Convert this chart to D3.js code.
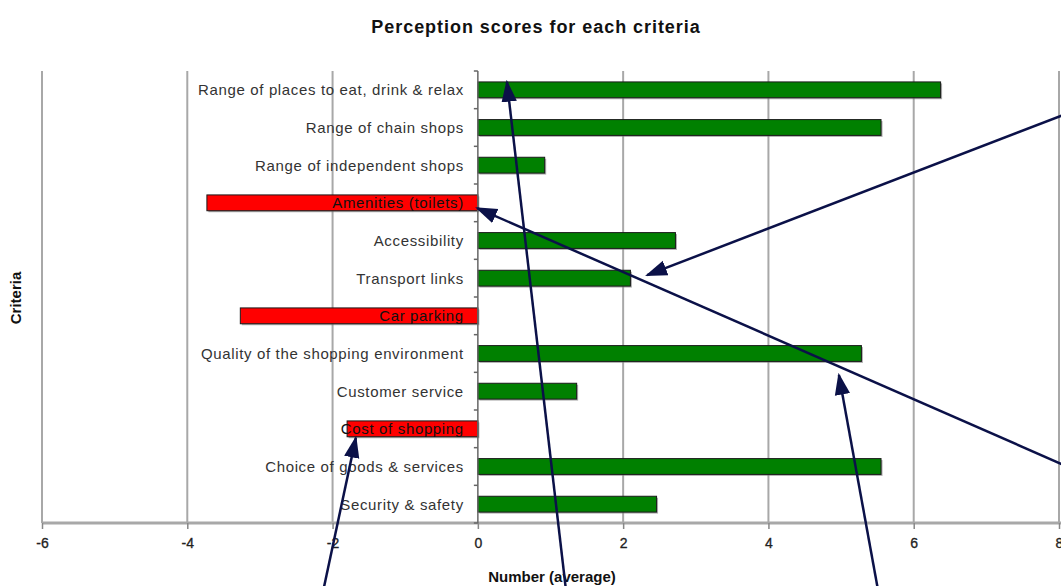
<!DOCTYPE html>
<html>
<head>
<meta charset="utf-8">
<script src="https://cdn.jsdelivr.net/npm/d3@7"></script>
<style>
  html, body { margin: 0; padding: 0; background: #fff; }
  svg { display: block; font-family: "Liberation Sans", Arial, sans-serif; }
</style>
</head>
<body>
<svg id="chart" width="1061" height="586"></svg>
<script>
// Criteria in display order (top to bottom)
const criteria = [
  "Range of places to eat, drink & relax",
  "Range of chain shops",
  "Range of independent shops",
  "Amenities (toilets)",
  "Accessibility",
  "Transport links",
  "Car parking",
  "Quality of the shopping environment",
  "Customer service",
  "Cost of shopping",
  "Choice of goods & services",
  "Security & safety"
];

// Average perception score per criterion
const scores = [6.37, 5.55, 0.92, -3.73, 2.72, 2.10, -3.27, 5.28, 1.36, -1.80, 5.55, 2.46];

const xTicks = [-6, -4, -2, 0, 2, 4, 6, 8];

// Callout arrows: tail and tip in data units (x = score, r = row position)
const arrows = [
  { from: [1.22, 13.9], to: [0.40, 0.29] },
  { from: [8.35, 0.95], to: [2.33, 5.42] },
  { from: [8.35, 10.7], to: [-0.01, 3.64] },
  { from: [-2.14, 13.9], to: [-1.68, 9.74] },
  { from: [5.52, 13.9], to: [4.97, 8.07] }
];

const svg = d3.select("#chart");
const W = 1061, H = 586;
const plot = { left: 42, right: 1059, top: 71, bottom: 523 };

const x = d3.scaleLinear().domain([-6, 8]).range([plot.left, plot.right]);
const y = d3.scaleBand().domain(criteria).range([plot.top, plot.bottom]).paddingInner(0.58).paddingOuter(0.29);
const rowPos = d3.scaleLinear().domain([0, criteria.length]).range([plot.top, plot.bottom]);

const data = criteria.map((c, i) => ({ c, v: scores[i] }));

// Title
svg.append("text")
  .attr("x", 536).attr("y", 33)
  .attr("text-anchor", "middle")
  .attr("font-weight", "bold").attr("font-size", 18)
  .attr("letter-spacing", 0.95)
  .attr("fill", "#111")
  .text("Perception scores for each criteria");

// Vertical gridlines
svg.append("g").selectAll("line")
  .data(xTicks.filter(t => t !== 0))
  .join("line")
  .attr("x1", d => x(d)).attr("x2", d => x(d))
  .attr("y1", plot.top).attr("y2", plot.bottom)
  .attr("stroke", "#a8a8a8").attr("stroke-width", 2);

// Bottom axis
const xAxis = d3.axisBottom(x).tickValues(xTicks).tickSize(6).tickPadding(9)
  .tickFormat(d => String(d));
const gx = svg.append("g").attr("transform", `translate(0,${plot.bottom})`).call(xAxis);
gx.select(".domain").attr("stroke", "#a8a8a8").attr("stroke-width", 3)
  .attr("d", `M${plot.left},0H${W}`);
gx.selectAll(".tick line").attr("stroke", "#888").attr("stroke-width", 1.5);
gx.selectAll(".tick text")
  .attr("font-size", 14).attr("fill", "#222")
  .attr("stroke", "#222").attr("stroke-width", 0.3);

// Bar shadows
svg.append("g").selectAll("rect")
  .data(data)
  .join("rect")
  .attr("x", d => Math.min(x(0), x(d.v)) + 1.5)
  .attr("y", d => y(d.c) + 1.5)
  .attr("width", d => Math.abs(x(d.v) - x(0)))
  .attr("height", y.bandwidth())
  .attr("fill", "#777").attr("opacity", 0.6);

// Bars
svg.append("g").selectAll("rect")
  .data(data)
  .join("rect")
  .attr("x", d => Math.min(x(0), x(d.v)))
  .attr("y", d => y(d.c))
  .attr("width", d => Math.abs(x(d.v) - x(0)))
  .attr("height", y.bandwidth())
  .attr("fill", d => d.v < 0 ? "#ff0000" : "#008000")
  .attr("stroke", "#1b1b1b").attr("stroke-width", 1);

// Zero axis line with band ticks
const gy = svg.append("g");
gy.append("line")
  .attr("x1", x(0)).attr("x2", x(0))
  .attr("y1", plot.top).attr("y2", plot.bottom)
  .attr("stroke", "#666").attr("stroke-width", 1.5);
gy.selectAll("line.tk")
  .data(d3.range(criteria.length + 1))
  .join("line").attr("class", "tk")
  .attr("x1", x(0) - 4).attr("x2", x(0))
  .attr("y1", d => rowPos(d)).attr("y2", d => rowPos(d))
  .attr("stroke", "#666").attr("stroke-width", 1.5);

// Category labels
svg.append("g").selectAll("text")
  .data(data)
  .join("text")
  .attr("x", x(0) - 14)
  .attr("y", d => y(d.c) + y.bandwidth() / 2)
  .attr("dy", "0.36em")
  .attr("text-anchor", "end")
  .attr("font-size", 15)
  .attr("letter-spacing", 0.65)
  .attr("fill", d => d.v < 0 ? "#111" : "#333")
  .text(d => d.c);

// Axis titles
svg.append("text")
  .attr("x", 552).attr("y", 582)
  .attr("text-anchor", "middle")
  .attr("font-weight", "bold").attr("font-size", 15)
  .attr("fill", "#111")
  .attr("font-family", "'Liberation Sans Narrow', 'Liberation Sans', Arial, sans-serif")
  .text("Number (average)");

svg.append("text")
  .attr("transform", `translate(21,298) rotate(-90)`)
  .attr("text-anchor", "middle")
  .attr("font-weight", "bold").attr("font-size", 15)
  .attr("fill", "#111")
  .attr("font-family", "'Liberation Sans Narrow', 'Liberation Sans', Arial, sans-serif")
  .text("Criteria");

// Callout arrows
const navy = "#0b1148";
svg.append("defs").append("marker")
  .attr("id", "head")
  .attr("viewBox", "0 0 10 10")
  .attr("refX", 9).attr("refY", 5)
  .attr("markerUnits", "userSpaceOnUse")
  .attr("orient", "auto")
  .attr("markerWidth", 22).attr("markerHeight", 22)
  .append("path").attr("d", "M0,1.5L10,5L0,8.5Z").attr("fill", navy);

svg.append("g").selectAll("line")
  .data(arrows)
  .join("line")
  .attr("x1", d => x(d.from[0])).attr("y1", d => rowPos(d.from[1]))
  .attr("x2", d => x(d.to[0])).attr("y2", d => rowPos(d.to[1]))
  .attr("stroke", navy).attr("stroke-width", 2.5)
  .attr("marker-end", "url(#head)");
</script>
</body>
</html>
